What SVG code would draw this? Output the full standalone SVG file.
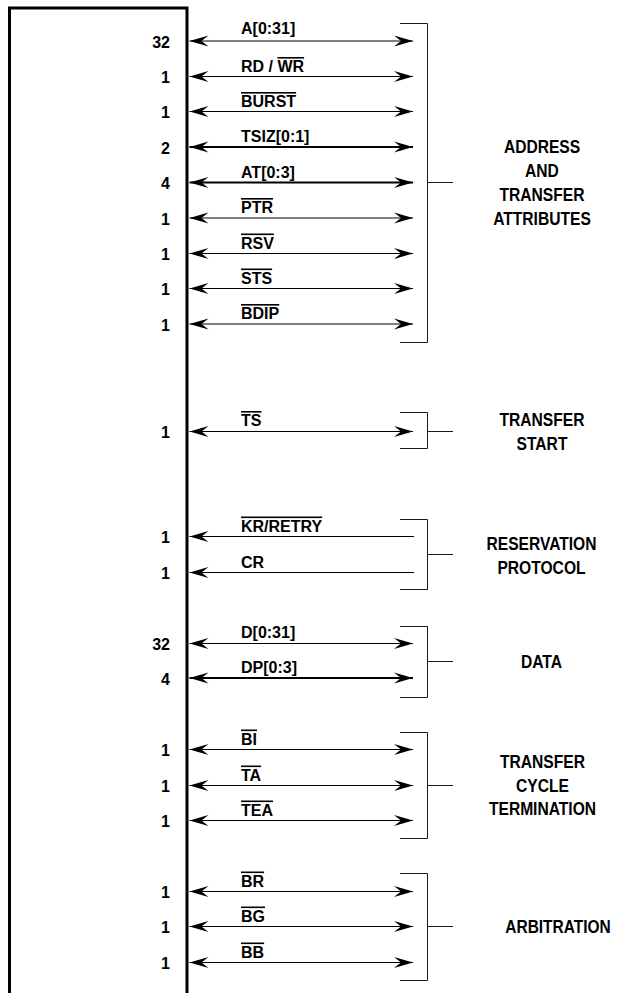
<svg xmlns="http://www.w3.org/2000/svg" width="617" height="993" viewBox="0 0 617 993">
<style>
.t{font-family:"Liberation Sans",Arial,Helvetica,sans-serif;font-weight:bold;font-size:16px;fill:#000}
.n{text-anchor:end}
.g{font-size:18px;text-anchor:middle}
.ol{text-decoration:overline}
.w{stroke:#000;stroke-width:1;fill:none}
.wt{stroke-width:2}
.bi{marker-start:url(#ah);marker-end:url(#ah)}
.lf{marker-start:url(#ah)}
.br{stroke:#1a1a1a;stroke-width:1;fill:none}
.box{stroke:#000;stroke-width:3;fill:none}
</style>
<defs>
<marker id="ah" markerUnits="userSpaceOnUse" markerWidth="24" markerHeight="14" viewBox="-22 -7 24 14" refX="0" refY="0" orient="auto-start-reverse" overflow="visible">
<path d="M0,0 L-19,-5.5 L-12,0 L-19,5.5 Z" fill="#000"/>
</marker>
</defs>
<rect width="617" height="993" fill="#fff"/>
<g id="block"><path class="box" d="M9.5,993 V8 H187 V993"/></g>

<g id="connectors">
<line class="w bi" x1="189.5" y1="41" x2="413" y2="41"/>
<line class="w bi" x1="189.5" y1="76.5" x2="413" y2="76.5"/>
<line class="w bi" x1="189.5" y1="111.5" x2="413" y2="111.5"/>
<line class="w wt bi" x1="189.5" y1="147" x2="413" y2="147"/>
<line class="w wt bi" x1="189.5" y1="182.5" x2="413" y2="182.5"/>
<line class="w bi" x1="189.5" y1="218" x2="413" y2="218"/>
<line class="w bi" x1="189.5" y1="253.5" x2="413" y2="253.5"/>
<line class="w bi" x1="189.5" y1="288.5" x2="413" y2="288.5"/>
<line class="w bi" x1="189.5" y1="324" x2="413" y2="324"/>
<line class="w bi" x1="189.5" y1="431.5" x2="413" y2="431.5"/>
<line class="w lf" x1="189.5" y1="536.5" x2="414" y2="536.5"/>
<line class="w lf" x1="189.5" y1="572.5" x2="414" y2="572.5"/>
<line class="w bi" x1="189.5" y1="643.5" x2="413" y2="643.5"/>
<line class="w wt bi" x1="189.5" y1="678" x2="413" y2="678"/>
<line class="w bi" x1="189.5" y1="749.5" x2="413" y2="749.5"/>
<line class="w bi" x1="189.5" y1="785.5" x2="413" y2="785.5"/>
<line class="w bi" x1="189.5" y1="820.5" x2="413" y2="820.5"/>
<line class="w bi" x1="189.5" y1="891.5" x2="413" y2="891.5"/>
<line class="w bi" x1="189.5" y1="926.5" x2="413" y2="926.5"/>
<line class="w bi" x1="189.5" y1="962.5" x2="413" y2="962.5"/>
<path class="br" d="M400,23.5 H427.5 V342.5 H400 M427.5,182.5 H453"/>
<path class="br" d="M400,412.5 H427.5 V448.5 H400 M427.5,431.5 H453"/>
<path class="br" d="M400,519.5 H427.5 V589.5 H400 M427.5,554.5 H453"/>
<path class="br" d="M400,626.5 H427.5 V697.5 H400 M427.5,661.5 H453"/>
<path class="br" d="M400,732.5 H427.5 V838.5 H400 M427.5,785.5 H453"/>
<path class="br" d="M400,873.5 H427.5 V980.5 H400 M427.5,926.5 H453"/>
</g>

<g id="sig-a"><text class="t n" x="170" y="47.5">32</text><text class="t" x="241" y="34">A[0:31]</text></g>
<g id="sig-rdwr"><text class="t n" x="170" y="83">1</text><text class="t" x="241" y="72">RD / <tspan class="ol">WR</tspan></text></g>
<g id="sig-burst"><text class="t n" x="170" y="118">1</text><text class="t ol" x="241" y="107">BURST</text></g>
<g id="sig-tsiz"><text class="t n" x="170" y="153.5">2</text><text class="t" x="241" y="142">TSIZ[0:1]</text></g>
<g id="sig-at"><text class="t n" x="170" y="189">4</text><text class="t" x="241" y="177.5">AT[0:3]</text></g>
<g id="sig-ptr"><text class="t n" x="170" y="224.5">1</text><text class="t ol" x="241" y="213">PTR</text></g>
<g id="sig-rsv"><text class="t n" x="170" y="260">1</text><text class="t ol" x="241" y="248.5">RSV</text></g>
<g id="sig-sts"><text class="t n" x="170" y="295">1</text><text class="t ol" x="241" y="283.5">STS</text></g>
<g id="sig-bdip"><text class="t n" x="170" y="330.5">1</text><text class="t ol" x="241" y="319">BDIP</text></g>
<g id="sig-ts"><text class="t n" x="170" y="438">1</text><text class="t ol" x="241" y="426">TS</text></g>
<g id="sig-kr"><text class="t n" x="170" y="543">1</text><text class="t ol" x="241" y="531.5">KR/RETRY</text></g>
<g id="sig-cr"><text class="t n" x="170" y="579">1</text><text class="t" x="241" y="567.5">CR</text></g>
<g id="sig-d"><text class="t n" x="170" y="650">32</text><text class="t" x="241" y="637.5">D[0:31]</text></g>
<g id="sig-dp"><text class="t n" x="170" y="684.5">4</text><text class="t" x="241" y="672.5">DP[0:3]</text></g>
<g id="sig-bi"><text class="t n" x="170" y="756">1</text><text class="t ol" x="241" y="744.5">BI</text></g>
<g id="sig-ta"><text class="t n" x="170" y="792">1</text><text class="t ol" x="241" y="780.5">TA</text></g>
<g id="sig-tea"><text class="t n" x="170" y="827">1</text><text class="t ol" x="241" y="815.5">TEA</text></g>
<g id="sig-br"><text class="t n" x="170" y="898">1</text><text class="t ol" x="241" y="886.5">BR</text></g>
<g id="sig-bg"><text class="t n" x="170" y="933">1</text><text class="t ol" x="241" y="921.5">BG</text></g>
<g id="sig-bb"><text class="t n" x="170" y="969">1</text><text class="t ol" x="241" y="957.5">BB</text></g>

<g id="grp-address" transform="translate(542,0) scale(0.867,1)">
<text class="t g" x="0" y="153">ADDRESS</text>
<text class="t g" x="0" y="177">AND</text>
<text class="t g" x="0" y="201">TRANSFER</text>
<text class="t g" x="0" y="225">ATTRIBUTES</text>
</g>
<g id="grp-transfer-start" transform="translate(542,0) scale(0.867,1)">
<text class="t g" x="0" y="426.5">TRANSFER</text>
<text class="t g" x="0" y="450.5">START</text>
</g>
<g id="grp-reservation" transform="translate(541.5,0) scale(0.867,1)">
<text class="t g" x="0" y="550">RESERVATION</text>
<text class="t g" x="0" y="574.5">PROTOCOL</text>
</g>
<g id="grp-data" transform="translate(541.5,0) scale(0.867,1)">
<text class="t g" x="0" y="668">DATA</text>
</g>
<g id="grp-termination" transform="translate(542.5,0) scale(0.867,1)">
<text class="t g" x="0" y="768.5">TRANSFER</text>
<text class="t g" x="0" y="792">CYCLE</text>
<text class="t g" x="0" y="815.5">TERMINATION</text>
</g>
<g id="grp-arbitration" transform="translate(558,0) scale(0.86,1)">
<text class="t g" x="0" y="933">ARBITRATION</text>
</g>
</svg>
